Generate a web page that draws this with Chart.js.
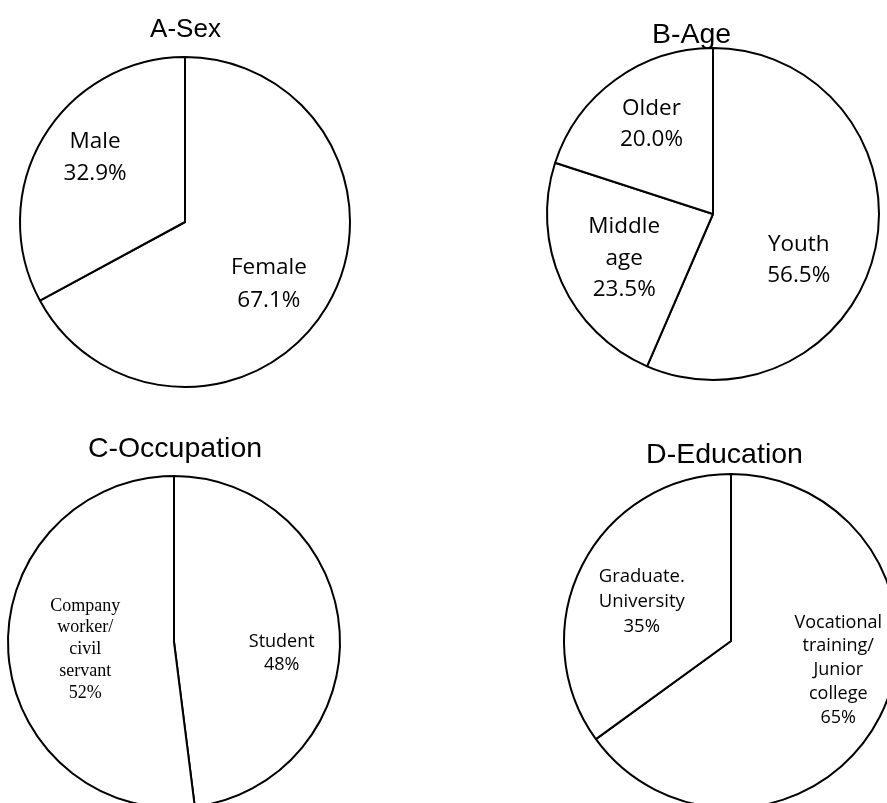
<!DOCTYPE html>
<html>
<head>
<meta charset="utf-8">
<script src="https://cdn.jsdelivr.net/npm/chart.js@4/dist/chart.umd.min.js"></script>
<style>
  html, body { margin: 0; padding: 0; background: #fff; }
  body { width: 887px; height: 803px; position: relative; overflow: hidden; }
  canvas { position: absolute; }
</style>
</head>
<body>
<canvas id="pieA" width="420" height="420"></canvas>
<canvas id="pieB" width="420" height="420"></canvas>
<canvas id="pieC" width="420" height="420"></canvas>
<canvas id="pieD" width="420" height="420"></canvas>
<script>
// data, clockwise from 12 o'clock
const sexLabels = ['Female', 'Male']
const sexValues = [67.1, 32.9]

const ageLabels = ['Youth', 'Middle\nage', 'Older']
const ageValues = [56.5, 23.5, 20.0]

const occupationLabels = ['Student', 'Company\nworker/\ncivil\nservant']
const occupationValues = [48, 52]

const educationLabels = ['Vocational\ntraining/\nJunior\ncollege', 'Graduate.\nUniversity']
const educationValues = [65, 35]

const SANS = '"Open Sans", sans-serif'
const SERIF = '"Liberation Serif", "Times New Roman", serif'
const TITLE_FONT = '"Liberation Sans", Arial, sans-serif'

// layout: pie centre on page, radius, title spot relative to centre,
// label nudges (px) from the point at 0.62 r on each slice's mid angle
const panels = [
  {
    id: 'pieA', cx: 185, cy: 222, r: 165,
    title: 'A-Sex', titleSize: 26, titleDx: 0.5, titleDy: -185,
    labels: sexLabels, values: sexValues, decimals: 1,
    fonts: [`22.5px ${SANS}`, `22.5px ${SANS}`], lineH: [33, 32],
    nudge: [[-4, 10], [-2, -12]]
  },
  {
    id: 'pieB', cx: 712.5, cy: 214, r: 166,
    title: 'B-Age', titleSize: 28.5, titleDx: -21.5, titleDy: -171,
    labels: ageLabels, values: ageValues, decimals: 1,
    fonts: [`22.5px ${SANS}`, `22.5px ${SANS}`, `22.5px ${SANS}`], lineH: [31.5, 31.5, 31],
    nudge: [[-15, 25], [5, 2], [-1, -7]]
  },
  {
    id: 'pieC', cx: 174, cy: 642, r: 166,
    title: 'C-Occupation', titleSize: 28.5, titleDx: 1, titleDy: -185,
    labels: occupationLabels, values: occupationValues, decimals: 0,
    fonts: [`18px ${SANS}`, `18px ${SERIF}`], lineH: [23.5, 21.7],
    nudge: [[5, 18], [14, 1]]
  },
  {
    id: 'pieD', cx: 731, cy: 641, r: 167,
    title: 'D-Education', titleSize: 28.5, titleDx: -6.5, titleDy: -178,
    labels: educationLabels, values: educationValues, decimals: 0,
    fonts: [`18px ${SANS}`, `18.5px ${SANS}`], lineH: [23.75, 25],
    nudge: [[15, -18], [3, 8]]
  }
]

const sliceText = {
  id: 'sliceText',
  afterDraw(chart, args, opts) {
    const { ctx } = chart
    const p = opts.panel
    const arcs = chart.getDatasetMeta(0).data
    ctx.save()
    ctx.fillStyle = '#000'
    ctx.textAlign = 'center'
    ctx.textBaseline = 'middle'
    arcs.forEach((arc, i) => {
      const { x, y, startAngle, endAngle, outerRadius } = arc.getProps(['x', 'y', 'startAngle', 'endAngle', 'outerRadius'])
      const mid = (startAngle + endAngle) / 2
      const px = x + Math.cos(mid) * outerRadius * 0.62 + p.nudge[i][0]
      const py = y + Math.sin(mid) * outerRadius * 0.62 + p.nudge[i][1]
      const lines = p.labels[i].split('\n')
      lines.push(p.values[i].toFixed(p.decimals) + '%')
      ctx.font = p.fonts[i]
      const lh = p.lineH[i]
      lines.forEach((line, k) => {
        ctx.fillText(line, px, py + (k - (lines.length - 1) / 2) * lh)
      })
    })
    // title
    const cx = chart.width / 2
    const cy = chart.height / 2
    ctx.font = `${p.titleSize}px ${TITLE_FONT}`
    ctx.textBaseline = 'alphabetic'
    ctx.fillText(p.title, cx + p.titleDx, cy + p.titleDy)
    ctx.restore()
  }
}

panels.forEach(p => {
  const canvas = document.getElementById(p.id)
  canvas.style.left = (p.cx - 210) + 'px'
  canvas.style.top = (p.cy - 210) + 'px'
  new Chart(canvas.getContext('2d'), {
    type: 'pie',
    data: {
      labels: p.labels,
      datasets: [{
        data: p.values,
        backgroundColor: '#ffffff',
        borderColor: '#000000',
        borderWidth: 2,
        radius: p.r
      }]
    },
    options: {
      responsive: false,
      animation: false,
      events: [],
      layout: { padding: 0 },
      plugins: {
        legend: { display: false },
        tooltip: { enabled: false },
        sliceText: { panel: p }
      }
    },
    plugins: [sliceText]
  })
})
</script>
</body>
</html>
